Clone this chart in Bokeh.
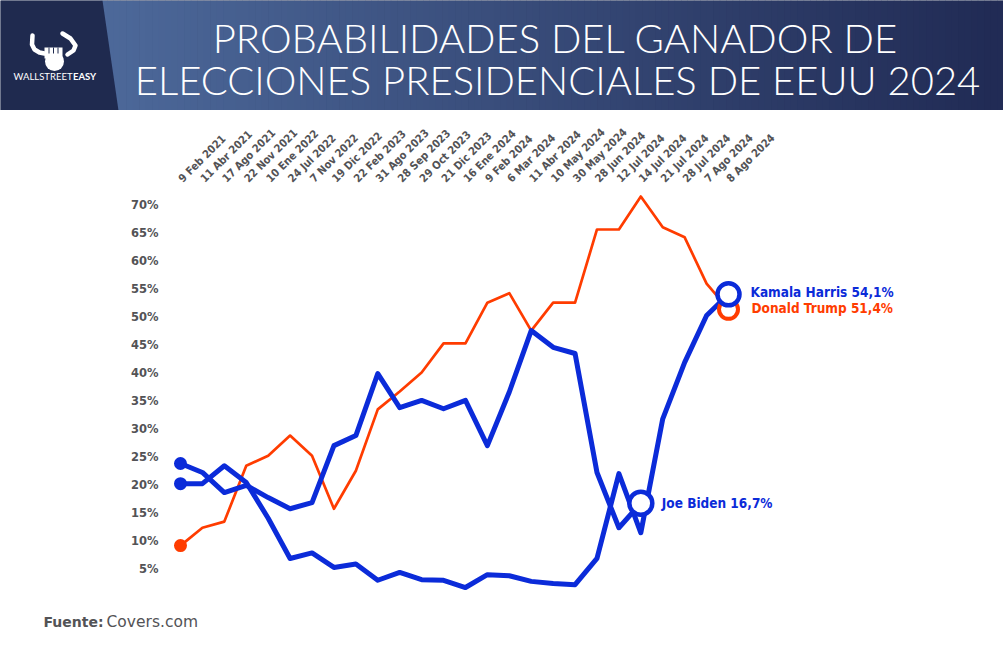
import math
import numpy as np
from bokeh.plotting import figure
from bokeh.models import Range1d, FixedTicker, PrintfTickFormatter
from bokeh.layouts import column
from bokeh.embed import file_html
from bokeh.resources import INLINE
from bokeh.core.properties import value

# ---------------- data ----------------
fechas = ["9 Feb 2021", "11 Abr 2021", "17 Ago 2021", "22 Nov 2021", "10 Ene 2022",
          "24 Jul 2022", "7 Nov 2022", "19 Dic 2022", "22 Feb 2023", "31 Ago 2023",
          "28 Sep 2023", "29 Oct 2023", "21 Dic 2023", "16 Ene 2024", "9 Feb 2024",
          "6 Mar 2024", "11 Abr 2024", "10 May 2024", "30 May 2024", "28 Jun 2024",
          "12 Jul 2024", "14 Jul 2024", "21 Jul 2024", "28 Jul 2024", "7 Ago 2024",
          "8 Ago 2024"]

trump = [9.1, 12.3, 13.4, 23.4, 25.2, 28.8, 25.2, 15.7, 22.5, 33.5, 36.7, 40.1,
         45.3, 45.3, 52.6, 54.3, 47.6, 52.6, 52.6, 65.7, 65.7, 71.6, 66.1, 64.3,
         56.0, 51.4]
harris = [20.2, 20.2, 23.4, 20.4, 14.0, 6.8, 7.8, 5.2, 5.8, 2.9, 4.3, 3.0, 2.9,
          1.6, 3.9, 3.7, 2.7, 2.3, 2.1, 6.8, 22.0, 11.4, 31.8, 41.9, 50.3, 54.1]
biden = [23.8, 22.2, 18.6, 19.9, 17.7, 15.7, 16.8, 27.0, 28.8, 39.9, 33.8, 35.1,
         33.6, 35.1, 27.0, 36.6, 47.6, 44.6, 43.5, 22.2, 12.3, 16.7]

nombres = ["Donald Trump", "Kamala Harris", "Joe Biden"]
y_ticks = [5, 10, 15, 20, 25, 30, 35, 40, 45, 50, 55, 60, 65, 70]

titulo_1 = "PROBABILIDADES DEL GANADOR DE"
titulo_2 = "ELECCIONES PRESIDENCIALES DE EEUU 2024"
fuente_label = "Fuente:"
fuente_txt = "Covers.com"

# ---------------- style ----------------
RED = "#ff3c00"
BLUE = "#0b2bd9"
GRAY = "#535356"
NAVY = "#1f2a4f"
NARROW = "Liberation Sans Narrow, DejaVu Sans Condensed, Roboto"
TITLE_FONT = "Lato Light, Lato"

W = 1003
HEAD_H = 110
CHART_H = 495
FOOT_H = 55


def fmt(v):
    return f"{v:.1f}".replace(".", ",")


# ---------------- header ----------------
h = figure(width=W, height=HEAD_H, x_range=Range1d(0, 1003), y_range=Range1d(110, 0),
           output_backend="svg", toolbar_location=None, x_axis_type=None,
           y_axis_type=None, min_border=0, frame_align=False)
h.outline_line_color = None
h.background_fill_color = NAVY
h.border_fill_color = NAVY

n_strips = 140
edges = np.linspace(100, 1003, n_strips + 1)
c0 = np.array([77, 105, 154])
c1 = np.array([33, 43, 85])
cols = []
for k in range(n_strips):
    t = k / (n_strips - 1)
    r, g, b = (c0 + (c1 - c0) * t).astype(int)
    cols.append(f"#{r:02x}{g:02x}{b:02x}")
h.quad(left=edges[:-1], right=edges[1:] + 0.6, top=0, bottom=110, color=cols,
       line_color=None)
h.patch(x=[0, 102, 118, 0], y=[0, 0, 110, 110], color=NAVY, line_color=None)

# logo
h.line(x=[32, 31.5, 34, 39, 44], y=[35, 44, 49, 52, 53], line_color="white",
       line_width=4.5, line_cap="round", line_join="round")
h.line(x=[62, 70, 75, 73, 67], y=[33, 38, 45, 50, 54], line_color="white",
       line_width=4.5, line_cap="round", line_join="round")
h.scatter(x=[54], y=[61], size=19, color="white", line_color=None)
h.quad(left=[44], right=[62], top=[47], bottom=[58], color="white", line_color=None)
h.segment(x0=[48.5, 53, 57.5], y0=[47, 47, 47], x1=[48.5, 53, 57.5], y1=[53, 53, 53],
          line_color=NAVY, line_width=1)
h.text(x=[72], y=[76], text=["WALLSTREET"], text_align="right", text_baseline="middle",
       text_font=value("Lato"), text_font_size="9.5px", text_color="white")
h.text(x=[72.5], y=[76], text=["EASY"], text_align="left", text_baseline="middle",
       text_font=value("Lato"), text_font_style="bold", text_font_size="9.5px",
       text_color="white")

h.text(x=[555, 557], y=[37, 79], text=[titulo_1, titulo_2], text_align="center",
       text_baseline="middle", text_font=value(TITLE_FONT), text_font_size="40px",
       text_color="white")

# ---------------- chart ----------------
c = figure(width=W, height=CHART_H, x_range=Range1d(-0.456, 37.545),
           y_range=Range1d(-1.62, 72.68), output_backend="svg",
           toolbar_location=None, x_axis_location="above", min_border=0,
           min_border_left=170, min_border_top=80, frame_align=False)
c.outline_line_color = None
c.grid.visible = False

xa = c.xaxis[0]
xa.ticker = FixedTicker(ticks=list(range(len(fechas))))
xa.major_label_overrides = {i: f for i, f in enumerate(fechas)}
xa.major_label_orientation = math.pi / 4
xa.major_label_text_font = NARROW
xa.major_label_text_font_style = "bold"
xa.major_label_text_font_size = "11px"
xa.major_label_text_color = GRAY
xa.major_label_standoff = 4
xa.axis_line_color = None
xa.major_tick_line_color = None
xa.minor_tick_line_color = None

ya = c.yaxis[0]
ya.ticker = FixedTicker(ticks=y_ticks)
ya.formatter = PrintfTickFormatter(format="%d%%")
ya.major_label_text_font = "DejaVu Sans"
ya.major_label_text_font_style = "bold"
ya.major_label_text_font_size = "11.5px"
ya.major_label_text_color = GRAY
ya.major_label_standoff = 6
ya.axis_line_color = None
ya.major_tick_line_color = None
ya.minor_tick_line_color = None

xt = list(range(len(trump)))
xh = list(range(len(harris)))
xb = list(range(len(biden)))

c.line(xt, trump, line_color=RED, line_width=2.7, line_join="round")
c.line(xh, harris, line_color=BLUE, line_width=5, line_join="round")
c.line(xb, biden, line_color=BLUE, line_width=5, line_join="round")

# start dots
c.scatter(x=[xt[0], xh[0], xb[0]], y=[trump[0], harris[0], biden[0]], size=13,
          color=[RED, BLUE, BLUE], line_color=None)

# end markers
c.scatter(x=[xt[-1]], y=[trump[-1]], size=19, fill_color="white", line_color=RED,
          line_width=4)
c.scatter(x=[xh[-1]], y=[harris[-1]], size=22, fill_color="white", line_color=BLUE,
          line_width=4.5)
c.scatter(x=[xb[-1]], y=[biden[-1]], size=23, fill_color="white", line_color=BLUE,
          line_width=4.5)

c.text(x=[xh[-1]], y=[harris[-1]], text=[f"{nombres[1]} {fmt(harris[-1])}%"],
       x_offset=22, y_offset=-2, text_baseline="middle", text_font=value(NARROW),
       text_font_style="bold", text_font_size="13.5px", text_color=BLUE)
c.text(x=[xt[-1]], y=[trump[-1]], text=[f"{nombres[0]} {fmt(trump[-1])}%"],
       x_offset=23, y_offset=-1, text_baseline="middle", text_font=value(NARROW),
       text_font_style="bold", text_font_size="13.5px", text_color=RED)
c.text(x=[xb[-1]], y=[biden[-1]], text=[f"{nombres[2]} {fmt(biden[-1])}%"],
       x_offset=21, y_offset=0, text_baseline="middle", text_font=value(NARROW),
       text_font_style="bold", text_font_size="13.5px", text_color=BLUE)

# ---------------- footer ----------------
f = figure(width=W, height=FOOT_H, x_range=Range1d(0, 1003), y_range=Range1d(660, 605),
           output_backend="svg", toolbar_location=None, x_axis_type=None,
           y_axis_type=None, min_border=0, frame_align=False)
f.outline_line_color = None
f.text(x=[43], y=[621], text=[fuente_label], text_baseline="middle",
       text_font=value("DejaVu Sans"), text_font_style="bold", text_font_size="14px",
       text_color=GRAY)
f.text(x=[106], y=[621], text=[fuente_txt], text_baseline="middle",
       text_font=value("DejaVu Sans"), text_font_size="15.5px", text_color=GRAY)

layout = column(h, c, f, spacing=0)
open("out.html", "w").write(file_html(layout, INLINE))
